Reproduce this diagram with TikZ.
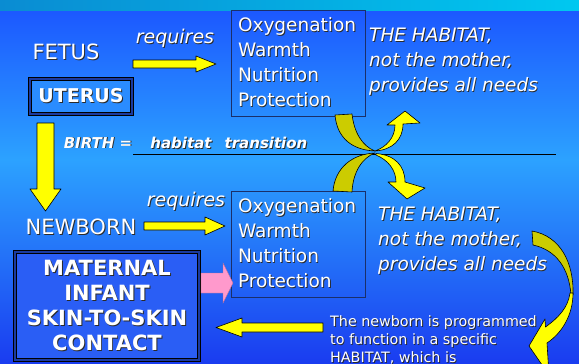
\documentclass[tikz,border=0pt]{standalone}
\usepackage{fontspec}
\setmainfont{DejaVu Sans}[ItalicFont={DejaVu Sans Oblique},BoldFont={DejaVu Sans Bold},BoldItalicFont={DejaVu Sans Bold Oblique}]
\usetikzlibrary{calc}
\definecolor{bgtop}{HTML}{1C58FF}
\definecolor{bgmid}{HTML}{2CA2FF}
\definecolor{bgbot}{HTML}{1A3CF0}
\definecolor{stripL}{HTML}{0A8CD2}
\definecolor{stripR}{HTML}{00C8F0}
\definecolor{yel}{HTML}{FFFF00}
\definecolor{oliv}{HTML}{CCCC00}
\definecolor{pinkc}{HTML}{FF99CC}
\definecolor{shadowc}{HTML}{2A2A2A}
\definecolor{navyb}{HTML}{1A3AA0}
\definecolor{boxline}{HTML}{1A2F6A}
\definecolor{uterfill}{HTML}{2A8CFF}
\definecolor{matfill}{HTML}{2A5EF5}
\newcommand{\sh}[1]{\leavevmode\rlap{\kern0.9pt\raisebox{-0.9pt}{\textcolor{shadowc}{#1}}}#1}
\tikzset{
  lbl/.style={text=white, inner sep=0pt},
  yarrow/.style={fill=yel, draw=black, line width=0.6pt, line join=round},
  oarrow/.style={fill=oliv, draw=black, line width=0.6pt, line join=round},
  parrow/.style={fill=pinkc, draw=pinkc!70!black, line width=0.4pt},
  needbox/.style={draw=boxline, line width=1pt, text=white, text width=120pt,
    align=left, minimum width=134pt, minimum height=106pt, inner xsep=7pt,
    inner ysep=2pt, font=\fontsize{18.5}{25}\selectfont},
  habtext/.style={lbl, align=left, anchor=west, font=\fontsize{18.5}{25}\selectfont\itshape},
  bigtext/.style={lbl, font=\fontsize{21}{25}\selectfont},
  reqtext/.style={lbl, font=\fontsize{19}{22}\selectfont\itshape},
  birthtext/.style={lbl, font=\fontsize{15}{18}\selectfont\bfseries\itshape},
  dblbox/.style={draw=black, line width=0.8pt, double=navyb, double distance=2pt, text=white}
}
\begin{document}
\begin{tikzpicture}[x=1pt,y=-1pt]
\useasboundingbox (0,0) rectangle (579,364);
\clip (0,0) rectangle (579,364);
% background
\shade[top color=bgtop, bottom color=bgmid] (0,10) rectangle (579,160);
\shade[top color=bgmid, bottom color=bgbot] (0,159.5) rectangle (579,364);
\shade[left color=stripL, right color=stripR] (0,0) rectangle (579,10);

% left column labels
\node[bigtext] (fetus) at (66,52) {\sh{FETUS}};
\node[dblbox, fill=uterfill, minimum width=102pt, minimum height=35pt, inner sep=0pt,
      font=\fontsize{19}{22}\selectfont\bfseries] (uterus) at (81,96.5) {\sh{UTERUS}};
\node[bigtext] (newborn) at (81,227) {\sh{NEWBORN}};
\node[dblbox, fill=matfill, minimum width=184pt, minimum height=108pt, inner sep=0pt,
      align=center, font=\fontsize{21}{25}\selectfont\bfseries] (maternal) at (107,306)
      {\sh{MATERNAL}\\\sh{INFANT}\\\sh{SKIN-TO-SKIN}\\\sh{CONTACT}};

% requires labels
\node[reqtext] (req1) at (175,39) {\sh{requires}};
\node[reqtext] (req2) at (186,202) {\sh{requires}};

% needs boxes
\node[needbox] (needs1) at (298,63) {\sh{Oxygenation}\\\sh{Warmth}\\\sh{Nutrition}\\\sh{Protection}};
\node[needbox] (needs2) at (298,244) {\sh{Oxygenation}\\\sh{Warmth}\\\sh{Nutrition}\\\sh{Protection}};

% habitat texts
\node[habtext] (hab1) at (369,62) {\sh{THE HABITAT,}\\\sh{not the mother,}\\\sh{provides all needs}};
\node[habtext] (hab2) at (378,241.5) {\sh{THE HABITAT,}\\\sh{not the mother,}\\\sh{provides all needs}};

% birth line
\node[birthtext] (birthA) at (98,143) {\sh{BIRTH =}};
\node[birthtext] (birthB) at (181,143) {\sh{habitat}};
\node[birthtext] (birthC) at (266,143) {\sh{transition}};
\coordinate (ls) at (133,154);
\coordinate (le) at (556,154);
\draw[black, line width=0.8pt] (ls) -- (le);

% bottom text
\node[lbl, align=left, anchor=west, font=\fontsize{14.3}{18}\selectfont] (prog) at (330,340)
  {\sh{The newborn is programmed}\\\sh{to function in a specific}\\\sh{HABITAT, which is}};

% straight block arrows
\coordinate (a1s) at (133,64);
\coordinate (a1e) at (216,64);
\draw[yarrow] (a1s) ++(0,-4) -- ++(63,0) -- ++(0,-4) -- (a1e) -- ++(-20,8) -- ++(0,-4) -- ++(-63,0) -- cycle;
\coordinate (a2s) at (144,226);
\coordinate (a2e) at (225,226);
\draw[yarrow] (a2s) ++(0,-4) -- ++(61,0) -- ++(0,-5) -- (a2e) -- ++(-20,9) -- ++(0,-5) -- ++(-61,0) -- cycle;
\coordinate (d1s) at (45.5,123);
\coordinate (d1e) at (45.5,211);
\draw[yarrow] (d1s) ++(-8.5,0) -- ++(0,66) -- ++(-7,0) -- (d1e) -- ++(15.5,-22) -- ++(-7,0) -- ++(0,-66) -- cycle;
\coordinate (p1s) at (201,283);
\coordinate (p1e) at (233,283);
\draw[parrow] (p1s) ++(0,-10) -- ++(22,0) -- ++(0,-10) -- (p1e) -- ++(-10,20) -- ++(0,-10) -- ++(-22,0) -- cycle;
\coordinate (l1s) at (323,327.5);
\coordinate (l1e) at (216,327.5);
\draw[yarrow] (l1s) ++(0,-4.5) -- ++(-81,0) -- ++(0,-5) -- (l1e) -- ++(26,9.5) -- ++(0,-5) -- ++(81,0) -- cycle;

% curved arrows at the crossing
\draw[oarrow] (335,115) .. controls (337,138) and (352,150) .. (375,151)
   .. controls (362,146) and (354,132) .. (352,114) -- cycle;
\draw[yarrow] (375,151) .. controls (392,150) and (403,140) .. (403,124) -- (420,123) -- (405,111)
   -- (387,125) -- (395,125) .. controls (395,138) and (386,147) .. (375,151) -- cycle;
\draw[oarrow] (333,191) .. controls (335,168) and (352,154) .. (375,153)
   .. controls (362,158) and (353,172) .. (352,192) -- cycle;
\draw[yarrow] (376,153.5) .. controls (395,155) and (405,166) .. (405,182) -- (425,188) -- (407,199)
   -- (388,182) -- (396,182) .. controls (396,170) and (388,160) .. (376,155) -- cycle;

% right curved arrow
\draw[oarrow] (532,231) .. controls (560,236) and (574,262) .. (573,295)
   -- (571,295) .. controls (569,268) and (556,250) .. (533,245) -- cycle;
\draw[yarrow] (573,293) .. controls (573,315) and (562,333) .. (547,343) -- (549,375) -- (529,346)
   -- (545,319) -- (545.5,327) .. controls (558,318) and (568,308) .. (570,293) -- cycle;
\end{tikzpicture}
\end{document}
